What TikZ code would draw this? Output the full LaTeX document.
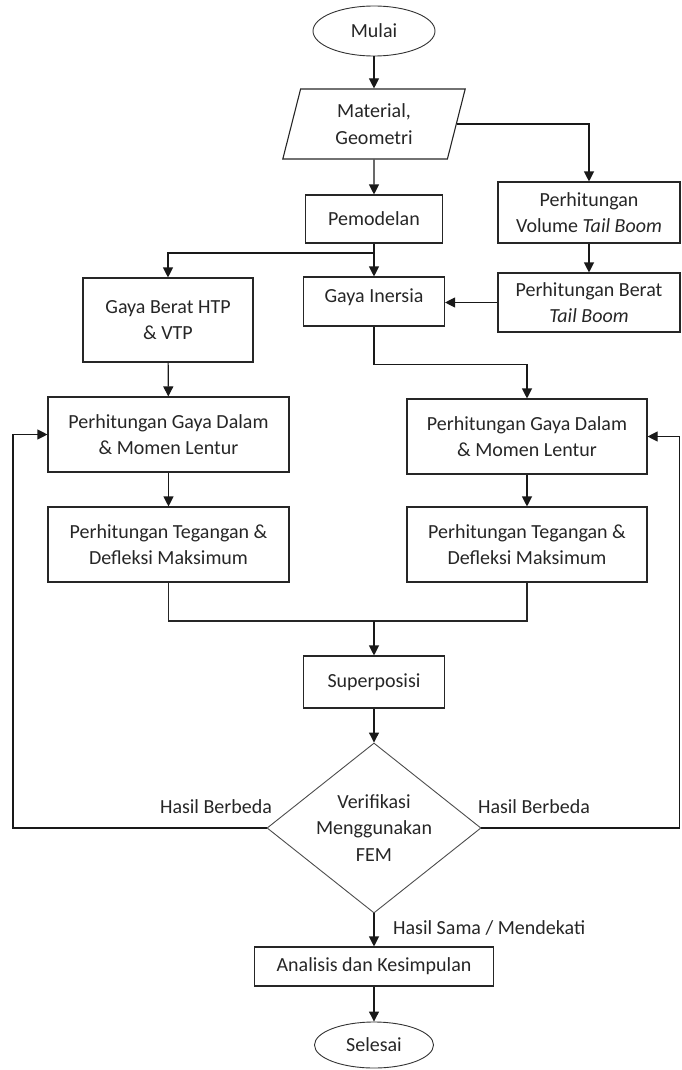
\documentclass[tikz,border=0pt]{standalone}
\usepackage{fontspec}
\setmainfont{Carlito}
\usetikzlibrary{shapes.geometric,arrows.meta}
\begin{document}
\begin{tikzpicture}[x=1pt,y=-1pt,
  every node/.style={font=\fontsize{20}{26.5}\selectfont, text=black!85},
  box/.style={draw=black!85, line width=1.1pt, align=center, inner sep=0pt},
  term/.style={ellipse, draw=black!80, line width=0.9pt, inner sep=0pt},
  arr/.style={-{Triangle[length=10pt,width=10pt]}, line width=1.1pt, draw=black!90},
  ln/.style={line width=1.1pt, draw=black!85},
  lbl/.style={inner sep=0pt}]
\useasboundingbox (0,0) rectangle (681,1070);

\node[term, minimum width=122pt, minimum height=50pt] (mulai) at (374,31) {Mulai};
\node[trapezium, trapezium left angle=77, trapezium right angle=103, trapezium stretches=true,
      draw=black!85, line width=1.1pt, align=center, inner sep=0pt,
      minimum width=183pt, minimum height=70pt] (mat) at (374,124) {Material,\\Geometri};
\node[box, minimum width=137pt, minimum height=48pt] (pem) at (374,219) {Pemodelan};
\node[box, minimum width=182pt, minimum height=61pt] (vol) at (589,212.5) {Perhitungan\\Volume \textit{Tail Boom}};
\node[box, minimum width=182pt, minimum height=59pt] (ber) at (589,302.5) {Perhitungan Berat\\\textit{Tail Boom}};
\node[box, minimum width=141pt, minimum height=49pt, text height=14pt, text depth=13pt] (ine) at (374,301.5) {Gaya Inersia};
\node[box, minimum width=170pt, minimum height=84pt] (gb) at (168,320) {Gaya Berat HTP\\\& VTP};
\node[box, minimum width=241pt, minimum height=75pt] (gdL) at (168.5,434.5) {Perhitungan Gaya Dalam\\\& Momen Lentur};
\node[box, minimum width=241pt, minimum height=75pt] (tgL) at (168.5,544.5) {Perhitungan Tegangan \&\\Defleksi Maksimum};
\node[box, minimum width=240pt, minimum height=75pt] (gdR) at (527,436.5) {Perhitungan Gaya Dalam\\\& Momen Lentur};
\node[box, minimum width=240pt, minimum height=75pt] (tgR) at (527,544.5) {Perhitungan Tegangan \&\\Defleksi Maksimum};
\node[box, minimum width=141pt, minimum height=52pt] (sup) at (374,682) {Superposisi};
\node[diamond, draw=black!70, line width=0.9pt, align=center, inner sep=0pt,
      minimum width=214pt, minimum height=170pt, aspect=1.26] (ver) at (374,828)
      {\fontsize{20}{27}\selectfont Verifikasi\\Menggunakan\\FEM};
\node[box, minimum width=239pt, minimum height=39pt] (ana) at (374,966.5) {Analisis dan Kesimpulan};
\node[term, minimum width=119pt, minimum height=46pt] (sel) at (374,1045) {Selesai};

\coordinate (br) at (374,253);
\coordinate (mg) at (374,621);
\coordinate (lx) at (13,828);
\coordinate (rx) at (679.5,828);

\draw[arr] (mulai) -- (mat);
\draw[arr] (mat) -- (pem);
\draw[arr] (mat.east) -| (vol.north);
\draw[arr] (vol) -- (ber);
\draw[arr] (ber.west) -- (ber.west -| ine.east);
\draw[arr] (pem) -- (ine);
\draw[arr] (br) -| (gb.north);
\draw[arr] (gb) -- (gdL);
\draw[arr] (ine.south) -- ++(0,38) -| (gdR.north);
\draw[arr] (gdL) -- (tgL);
\draw[arr] (gdR) -- (tgR);
\draw[ln] (tgL.south) |- (mg) -| (tgR.south);
\draw[arr] (mg) -- (sup);
\draw[arr] (sup) -- (ver);
\draw[arr] (ver.west) -- (lx) |- (gdL.west);
\draw[arr] (ver.east) -- (rx) |- (gdR.east);
\draw[arr] (ver) -- (ana);
\draw[arr] (ana) -- (sel);

\node[lbl] (hb1) at (216,807) {Hasil Berbeda};
\node[lbl] (hb2) at (534,807) {Hasil Berbeda};
\node[lbl, anchor=west] (hs) at (393,928) {Hasil Sama / Mendekati};
\end{tikzpicture}
\end{document}
